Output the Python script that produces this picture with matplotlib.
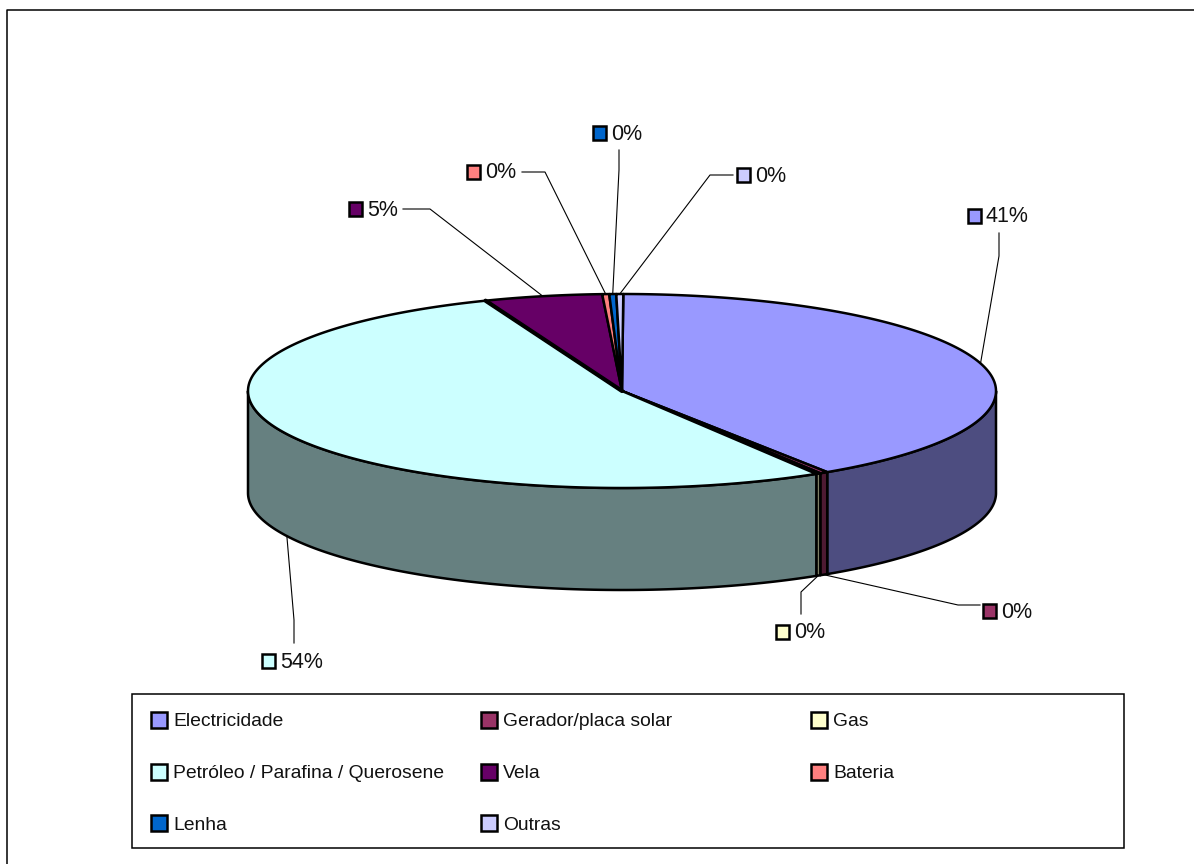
import numpy as np
import matplotlib
matplotlib.use('Agg')
import matplotlib.pyplot as plt
from matplotlib.patches import Polygon, Rectangle

# Data
categories = ['Electricidade', 'Gerador/placa solar', 'Gas',
              'Petróleo / Parafina / Querosene', 'Vela', 'Bateria', 'Lenha', 'Outras']
values = [40.7, 0.35, 0.2, 52.75, 5.1, 0.3, 0.3, 0.3]
pct_labels = ['41%', '0%', '0%', '54%', '5%', '0%', '0%', '0%']
colors = ['#9999FF', '#993366', '#FFFFCC', '#CCFFFF', '#660066', '#FF8080', '#0066CC', '#CCCCFF']

# Pie geometry in pixels
cx, cy = 622, 391
rx, ry = 374, 97
depth = 102
START = np.deg2rad(0.2)
EDGE = 1.8

# label position (text left edge, y) and the elbow / end of the leader line
label_pos = [(986, 216), (1001, 611), (794, 632), (280, 661), (367, 209), (485, 172), (611, 133), (755, 175)]
leader_elbow = [(999, 256), (958, 605), (801, 592), (294, 620), (430, 209), (545, 172), (619, 170), (710, 175)]
leader_end = [(999, 233), (980, 605), (801, 614), (294, 643), (403, 209), (522, 172), (619, 150), (733, 175)]

plt.rcParams['font.family'] = ['Liberation Sans', 'DejaVu Sans']
fig = plt.figure(figsize=(11.94, 8.64), dpi=100)
ax = fig.add_axes([0, 0, 1, 1])
ax.set_xlim(0, 1194)
ax.set_ylim(864, 0)
ax.axis('off')


def pt(theta):
    # theta clockwise from 12 o'clock, on the top ellipse
    return cx + rx * np.sin(theta), cy - ry * np.cos(theta)


def darker(c):
    rgb = np.array(matplotlib.colors.to_rgb(c))
    return tuple(rgb * 0.5)


# outer frame, only top and left are in the picture
ax.plot([6.5, 6.5, 1194], [864, 10, 10], color='black', lw=1.1, zorder=0)

edges = START + 2 * np.pi * np.cumsum([0] + values) / sum(values)

# side wall
for i in range(len(values)):
    a0 = max(edges[i], np.pi / 2)
    a1 = min(edges[i + 1], 3 * np.pi / 2)
    if a1 <= a0:
        continue
    t = np.linspace(a0, a1, 120)
    x, y = pt(t)
    xy = np.r_[np.c_[x, y], np.c_[x[::-1], y[::-1] + depth]]
    ax.add_patch(Polygon(xy, fc=darker(colors[i]), ec='black', lw=EDGE, joinstyle='round', zorder=2))

# top face
for i in range(len(values)):
    t = np.linspace(edges[i], edges[i + 1], 200)
    x, y = pt(t)
    xy = np.r_[[[cx, cy]], np.c_[x, y]]
    ax.add_patch(Polygon(xy, fc=colors[i], ec='black', lw=EDGE, joinstyle='round', zorder=3))

# heavier boundary on the Vela side
bx, by = pt(edges[4])
ax.plot([cx, bx], [cy, by], color='black', lw=3, solid_capstyle='round', zorder=3.5)

# leader lines and data labels
for i in range(len(values)):
    mid = (edges[i] + edges[i + 1]) / 2
    x0, y0 = pt(mid)
    if np.pi / 2 < mid < 3 * np.pi / 2:
        y0 += depth
    ex, ey = leader_elbow[i]
    ax.plot([x0, ex, leader_end[i][0]], [y0, ey, leader_end[i][1]], color='black', lw=0.8, zorder=4)
    lx, ly = label_pos[i]
    ax.add_patch(Rectangle((lx - 18, ly - 7), 13, 14, fc=colors[i], ec='black', lw=1.8, zorder=5))
    ax.text(lx, ly + 1, pct_labels[i], fontsize=15.5, va='center', ha='left', color='#111111', zorder=5)

# legend
ax.add_patch(Rectangle((132, 694), 992, 154, fc='white', ec='black', lw=1.1, zorder=1))
col_x = [151, 481, 811]
row_y = [720, 771.5, 823]
for i, name in enumerate(categories):
    x = col_x[i % 3]
    y = row_y[i // 3]
    ax.add_patch(Rectangle((x, y - 8), 16, 16, fc=colors[i], ec='black', lw=1.8, zorder=2))
    ax.text(x + 22, y + 2, name, fontsize=13.9, va='center', ha='left', color='#111111', zorder=2)

fig.savefig('out.png', dpi=100)
